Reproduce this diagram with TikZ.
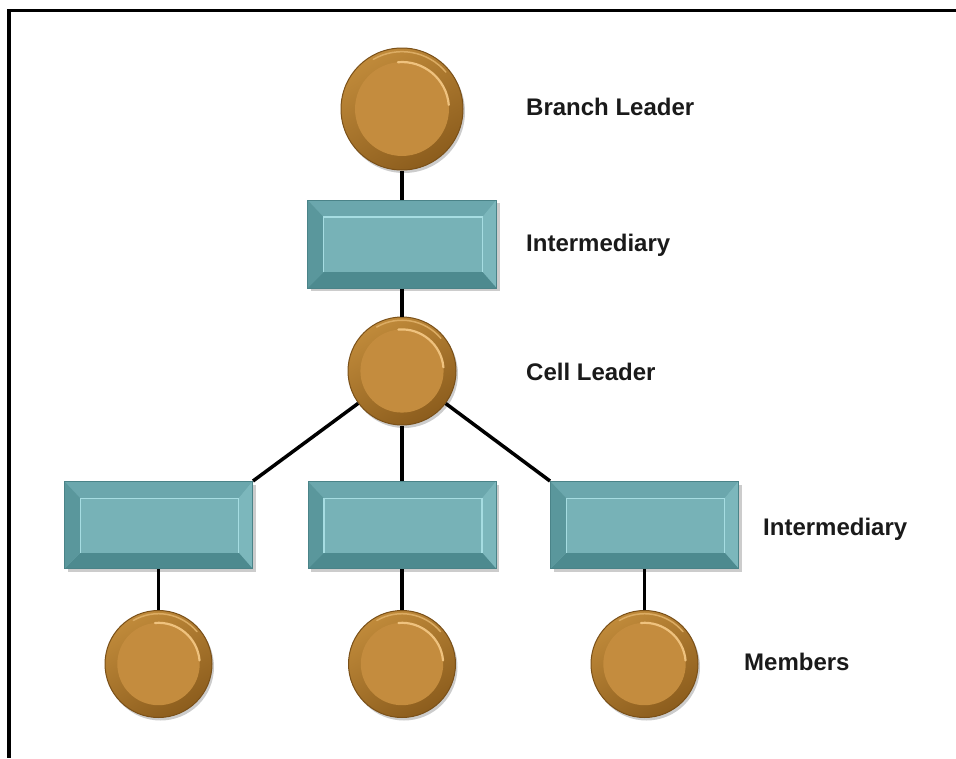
\documentclass[tikz,border=0pt]{standalone}
\usepackage{fontspec}
\setmainfont{Liberation Sans}
\usetikzlibrary{shadows,calc}
\definecolor{ringTop}{HTML}{C08A3A}
\definecolor{ringBot}{HTML}{8C5D1D}
\definecolor{ringEdge}{HTML}{7A5018}
\definecolor{diskC}{HTML}{C48C3E}
\definecolor{hiC}{HTML}{EFC27E}
\definecolor{tealTop}{HTML}{6BA7AD}
\definecolor{tealLeft}{HTML}{5A979C}
\definecolor{tealRight}{HTML}{7CB7BC}
\definecolor{tealBot}{HTML}{4D8A8F}
\definecolor{tealFace}{HTML}{77B2B7}
\definecolor{tealLight}{HTML}{A6DDE2}
\definecolor{tealEdge}{HTML}{4A8388}
\definecolor{txtC}{HTML}{1A1A1A}
\tikzset{
  ball/.style={circle, inner sep=0pt, minimum size=#1 pt,
    top color=ringTop, bottom color=ringBot, shading angle=30,
    draw=ringEdge, line width=1pt,
    drop shadow={shadow xshift=2pt, shadow yshift=-3pt, opacity=0.2, fill=black},
    path picture={
      \fill[diskC] (path picture bounding box.center) circle[radius=0.385*#1 pt];
      \draw[hiC, line width=2.2pt, line cap=round] (path picture bounding box.center) ++(95:0.385*#1 pt)
        arc[start angle=95, end angle=5, radius=0.385*#1 pt];
      \draw[hiC!60!ringTop, line width=1.5pt, line cap=round] (path picture bounding box.center) ++(120:0.47*#1 pt)
        arc[start angle=120, end angle=40, radius=0.47*#1 pt];
    }},
  panel/.style={rectangle, inner sep=0pt, minimum width=188pt, minimum height=87pt,
    fill=tealFace, draw=tealEdge, line width=1pt,
    drop shadow={shadow xshift=3pt, shadow yshift=-3pt, opacity=0.2, fill=black},
    path picture={
      \coordinate (pA) at (path picture bounding box.north west);
      \coordinate (pB) at (path picture bounding box.north east);
      \coordinate (pC) at (path picture bounding box.south east);
      \coordinate (pD) at (path picture bounding box.south west);
      \coordinate (qa) at ($(pA)+(16pt,-17pt)$);
      \coordinate (qb) at ($(pB)+(-14pt,-17pt)$);
      \coordinate (qc) at ($(pC)+(-14pt,16pt)$);
      \coordinate (qd) at ($(pD)+(16pt,16pt)$);
      \fill[tealTop] (pA) -- (pB) -- (qb) -- (qa) -- cycle;
      \fill[tealRight] (pB) -- (pC) -- (qc) -- (qb) -- cycle;
      \fill[tealBot] (pC) -- (pD) -- (qd) -- (qc) -- cycle;
      \fill[tealLeft] (pD) -- (pA) -- (qa) -- (qd) -- cycle;
      \fill[tealFace] (qa) -- (qb) -- (qc) -- (qd) -- cycle;
      \draw[tealLight, line width=1.5pt] (qd) -- (qa) -- (qb) -- (qc);
    }},
  lbl/.style={anchor=base west, inner sep=0pt, text=txtC,
    font=\fontsize{24}{28}\selectfont\bfseries},
  link/.style={line width=3.5pt, black}
}
\begin{document}
\begin{tikzpicture}[x=1pt,y=-1pt]
\useasboundingbox (0,0) rectangle (956,758);
\fill[white] (0,0) rectangle (956,758);
\coordinate (frTR) at (956,10.5);
\coordinate (frTL) at (9,10.5);
\coordinate (frBL) at (9,758);
\draw[line width=3.5pt, black] (frTR) -- (frTL) -- (frBL);

\node[ball=122] (bl) at (402,109) {};
\node[panel, minimum width=189pt, minimum height=88pt] (i1) at (402,244) {};
\node[ball=108] (cl) at (402,371) {};
\node[panel] (r1) at (158.5,525) {};
\node[panel] (r2) at (402,525) {};
\node[panel] (r3) at (644.5,525) {};
\node[ball=107] (m1) at (158.5,664) {};
\node[ball=107] (m2) at (402,664) {};
\node[ball=107] (m3) at (644.5,664) {};

\draw[link] (bl.south) -- (i1.north);
\draw[link] (i1.south) -- (cl.north);
\draw[link] (cl) -- (r1.north east);
\draw[link] (cl.south) -- (r2.north);
\draw[link] (cl) -- (r3.north west);
\draw[link] (r1.south) -- (m1.north);
\draw[link] (r2.south) -- (m2.north);
\draw[link] (r3.south) -- (m3.north);

\node[lbl] (tBL) at (526,115) {Branch Leader};
\node[lbl] (tI1) at (526,251) {Intermediary};
\node[lbl] (tCL) at (526,380) {Cell Leader};
\node[lbl] (tI2) at (763,535) {Intermediary};
\node[lbl] (tM) at (744,670) {Members};
\end{tikzpicture}
\end{document}
